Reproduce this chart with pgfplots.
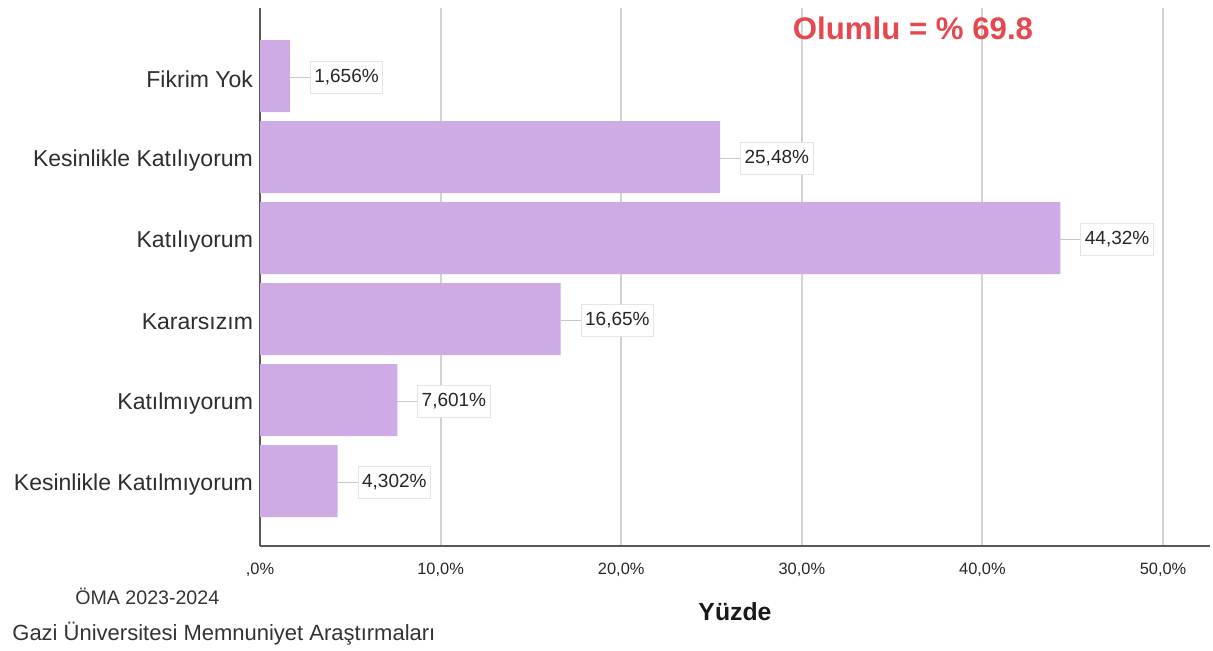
\documentclass[border=0pt]{standalone}
\usepackage{pgfplots}
\pgfplotsset{compat=1.18}
\usepackage{fontspec}
\setmainfont{Liberation Sans}
\definecolor{barlila}{HTML}{CEABE4}
\definecolor{gridgray}{HTML}{D2D2D2}
\definecolor{olumred}{HTML}{E5484E}

\begin{document}
\begin{tikzpicture}
% canvas: reference pixels times 0.5pt (1213 x 651 px)
\path[use as bounding box] (0pt,0pt) rectangle (606.5pt,325.5pt);
\begin{axis}[
  at={(130pt,52.5pt)}, anchor=south west,
  scale only axis,
  width=475pt, height=269pt,
  xbar,
  bar width=36pt,
  xmin=0, xmax=52.6,
  ymin=-0.80, ymax=5.84,
  axis x line=bottom, axis y line=left,
  axis line style={-, draw=black!65, line width=0.8pt},
  xtick={0,10,20,30,40,50},
  xticklabels={{,0\%},{10,0\%},{20,0\%},{30,0\%},{40,0\%},{50,0\%}},
  ytick={0,1,2,3,4,5},
  yticklabels={Kesinlikle Katılmıyorum,Katılmıyorum,Kararsızım,Katılıyorum,Kesinlikle Katılıyorum,Fikrim Yok},
  major tick length=0pt,
  tick style={draw=none},
  xmajorgrids,
  major grid style={draw=gridgray, line width=1pt},
  xticklabel style={font=\fontsize{8.2}{10}\selectfont, text=black!85, anchor=center, yshift=-12pt},
  yticklabel style={font=\fontsize{11.5}{13}\selectfont, text=black!82, yshift=-1.5pt},
  point meta=explicit symbolic,
  nodes near coords,
  every node near coord/.append style={
    anchor=west, xshift=10pt, yshift=-0.5pt,
    font=\fontsize{9.5}{11}\selectfont, text=black!85,
    draw=black!10, fill=white, inner xsep=2pt, inner ysep=0pt,
    minimum height=16pt,
    append after command={(\tikzlastnode.west) edge[draw=black!22, line width=0.5pt] ++(-10pt,0pt)}
  },
]
\addplot[fill=barlila, draw=none] coordinates {
  (4.302,0) [{4,302\%}]
  (7.601,1) [{7,601\%}]
  (16.65,2) [{16,65\%}]
  (44.32,3) [{44,32\%}]
  (25.48,4) [{25,48\%}]
  (1.656,5) [{1,656\%}]
};
\end{axis}
\node[font=\fontsize{15.6}{18}\selectfont\bfseries, text=olumred] at (456.5pt,311.5pt) {Olumlu = \% 69.8};
\node[font=\fontsize{12.4}{14}\selectfont\bfseries, text=black!90] at (367.5pt,19.5pt) {Yüzde};
\node[font=\fontsize{9.8}{12}\selectfont, text=black!80, anchor=west, inner sep=0pt] at (37.5pt,27.5pt) {ÖMA 2023-2024};
\node[font=\fontsize{11}{13}\selectfont, text=black!80, anchor=west, inner sep=0pt] at (6pt,8.5pt) {Gazi Üniversitesi Memnuniyet Araştırmaları};
\end{tikzpicture}
\end{document}
